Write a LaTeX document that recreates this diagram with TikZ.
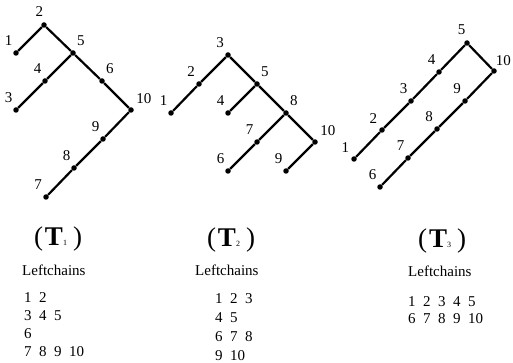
\documentclass[tikz,border=0pt]{standalone}
\usepackage{fontspec}
\setmainfont{Liberation Serif}
\begin{document}
\begin{tikzpicture}[x=1pt,y=-1pt,
  dot/.style={circle,fill=black,inner sep=0pt,minimum size=5.5pt},
  edge/.style={line width=2.2pt},
  num/.style={font=\fontsize{15}{15}\selectfont,inner sep=0pt},
  every label/.style={num},
  label distance=5pt,
  title/.style={font=\fontsize{27}{27}\selectfont,inner sep=0pt,anchor=base},
  head/.style={font=\fontsize{15}{15}\selectfont,inner sep=0pt,anchor=base west},
  chains/.style={inner sep=0pt,align=left,anchor=north west}]
\useasboundingbox (0,0) rectangle (513,363);
% --- tree T1 ---
\node[dot,label=95:2] (a2) at (44,25) {};
\node[dot,label=115:1] (a1) at (16,53) {};
\node[dot,label=60:5] (a5) at (73,53) {};
\node[dot,label=115:4] (a4) at (45,81) {};
\node[dot,label=115:3] (a3) at (16,110) {};
\node[dot,label=60:6] (a6) at (102,81) {};
\node[dot,label=50:10] (a10) at (131,110) {};
\node[dot,label=115:9] (a9) at (103,139) {};
\node[dot,label=115:8] (a8) at (74,168) {};
\node[dot,label=120:7] (a7) at (46,197) {};
\draw[edge] (a1) -- (a2) -- (a5) -- (a6) -- (a10) -- (a9) -- (a8) -- (a7);
\draw[edge] (a5) -- (a4) -- (a3);
% --- tree T2 ---
\node[dot,label=120:3] (b3) at (228,55) {};
\node[dot,label=120:2] (b2) at (199,84) {};
\node[dot,label=115:1] (b1) at (171,113) {};
\node[dot,label=60:5] (b5) at (257,84) {};
\node[dot,label=115:4] (b4) at (228,113) {};
\node[dot,label=60:8] (b8) at (286,113) {};
\node[dot,label=115:7] (b7) at (257,142) {};
\node[dot,label=115:6] (b6) at (228,171) {};
\node[dot,label=50:10] (b10) at (315,142) {};
\node[dot,label=115:9] (b9) at (286,171) {};
\draw[edge] (b1) -- (b2) -- (b3) -- (b5) -- (b8) -- (b10) -- (b9);
\draw[edge] (b5) -- (b4);
\draw[edge] (b8) -- (b7) -- (b6);
% --- tree T3 ---
\node[dot,label=100:5] (c5) at (467,43) {};
\node[dot,label=115:4] (c4) at (439,72) {};
\node[dot,label=115:3] (c3) at (411,101) {};
\node[dot,label=125:2] (c2) at (382,130) {};
\node[dot,label=125:1] (c1) at (354,159) {};
\node[dot,label={[xshift=-4pt]45:10}] (c10) at (494,71) {};
\node[dot,label=120:9] (c9) at (465,101) {};
\node[dot,label=120:8] (c8) at (437,129) {};
\node[dot,label=115:7] (c7) at (408,158) {};
\node[dot,label=115:6] (c6) at (380,187) {};
\draw[edge] (c1) -- (c2) -- (c3) -- (c4) -- (c5) -- (c10) -- (c9) -- (c8) -- (c7) -- (c6);
% --- captions ---
\node[title] (t1) at (58,245) {(\hspace{2pt}\textbf{T}{\fontsize{8}{8}\selectfont 1}\hspace{6pt})};
\node[title] (t2) at (231,246) {(\hspace{2pt}\textbf{T}{\fontsize{8}{8}\selectfont 2}\hspace{6pt})};
\node[title] (t3) at (442,247) {(\hspace{2pt}\textbf{T}{\fontsize{8}{8}\selectfont 3}\hspace{6pt})};
\node[head] (h1) at (22,275) {Leftchains};
\node[head] (h2) at (195,275) {Leftchains};
\node[head] (h3) at (408,276) {Leftchains};
% --- leftchains ---
\node[chains,font=\fontsize{15}{18}\selectfont] (l1) at (24,292)
  {1\enspace 2\\3\enspace 4\enspace 5\\6\\7\enspace 8\enspace 9\enspace 10};
\node[chains,font=\fontsize{15}{19}\selectfont] (l2) at (215,293)
  {1\enspace 2\enspace 3\\4\enspace 5\\6\enspace 7\enspace 8\\9\enspace 10};
\node[chains,font=\fontsize{15}{17}\selectfont] (l3) at (408,296)
  {1\enspace 2\enspace 3\enspace 4\enspace 5\\6\enspace 7\enspace 8\enspace 9\enspace 10};
\end{tikzpicture}
\end{document}
